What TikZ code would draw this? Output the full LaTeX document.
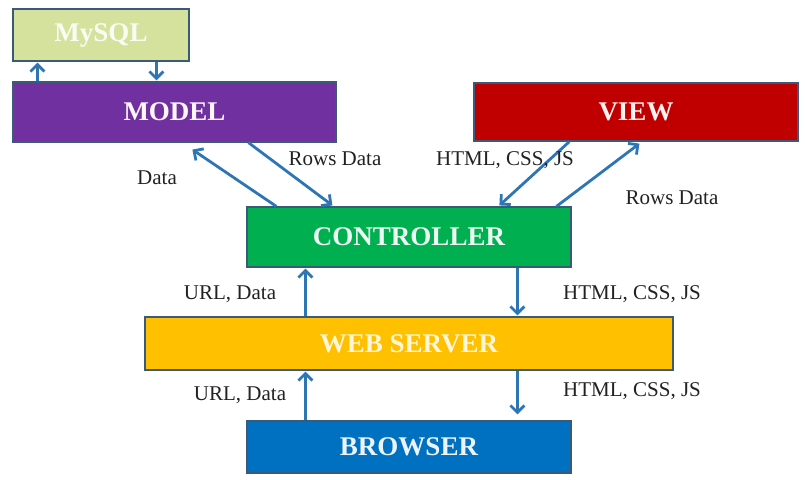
\documentclass[tikz,border=0pt]{standalone}
\usepackage{fontspec}
\setmainfont{Liberation Serif}
\usetikzlibrary{arrows.meta,calc}
\definecolor{bordc}{HTML}{3A5A78}
\definecolor{arrc}{HTML}{2E75B6}
\definecolor{mysqlc}{HTML}{D4E29E}
\definecolor{modelc}{HTML}{7030A0}
\definecolor{viewc}{HTML}{C00000}
\definecolor{ctrlc}{HTML}{00B050}
\definecolor{wsc}{HTML}{FFC000}
\definecolor{brc}{HTML}{0070C0}
\definecolor{labc}{HTML}{222222}
\tikzset{
  box/.style={draw=bordc, line width=1.2pt, anchor=center, inner sep=0pt,
    font=\fontsize{27}{30}\selectfont\bfseries},
  lab/.style={font=\fontsize{21}{24}\selectfont, text=labc, inner sep=0pt},
  conn/.style={draw=arrc, line width=2.8pt, -{Straight Barb[length=7pt,width=14pt,line width=2.8pt]}},
}
\begin{document}
\begin{tikzpicture}[x=1pt,y=-1pt]
\useasboundingbox[fill=white] (0,0) rectangle (805,479);
% boxes
\node[box, fill=mysqlc, text=white!88!mysqlc, minimum width=176pt, minimum height=52pt] (mysql) at (101,35) {MySQL};
\node[box, fill=modelc, text=white!85!pink, minimum width=323pt, minimum height=60pt] (model) at (174.5,112) {MODEL};
\node[box, fill=viewc, text=white!95!viewc, minimum width=324pt, minimum height=58pt] (view) at (636,112) {VIEW};
\node[box, fill=ctrlc, text=white!93!ctrlc, minimum width=324pt, minimum height=60pt] (ctrl) at (409,237) {CONTROLLER};
\node[box, fill=wsc, text=white!85!wsc, minimum width=528pt, minimum height=53pt] (ws) at (409,343.5) {WEB SERVER};
\node[box, fill=brc, text=white!92!brc, minimum width=324pt, minimum height=52pt] (br) at (409,447) {BROWSER};
% MySQL <-> Model
\draw[conn] ($(model.north west)+(25,0)$) -- ($(mysql.south west)+(25,1)$);
\draw[conn] ($(mysql.south west)+(144,0)$) -- ($(model.north west)+(144,-1)$);
% Model <-> Controller
\draw[conn] ($(ctrl.north west)+(30,0)$) -- ($(model.south west)+(180,7)$);
\draw[conn] ($(model.south west)+(236,0)$) -- ($(ctrl.north west)+(86,-1)$);
% View <-> Controller
\draw[conn] ($(view.south west)+(96,0)$) -- ($(ctrl.north west)+(253,-1)$);
\draw[conn] ($(ctrl.north west)+(310,0)$) -- ($(view.south west)+(166,2)$);
% Controller <-> Web server
\draw[conn] ($(ws.north west)+(161,0)$) -- ($(ctrl.south west)+(59,1)$);
\draw[conn] ($(ctrl.south west)+(271,0)$) -- ($(ws.north west)+(373,-1)$);
% Web server <-> Browser
\draw[conn] ($(br.north west)+(59,0)$) -- ($(ws.south west)+(161,1)$);
\draw[conn] ($(ws.south west)+(373,0)$) -- ($(br.north west)+(271,-6)$);
% labels
\node[lab] (l1) at (157,178) {Data};
\node[lab] (l2) at (335,159) {Rows Data};
\node[lab] (l3) at (505,160) {HTML, CSS, JS};
\node[lab] (l4) at (672,198) {Rows Data};
\node[lab] (l5) at (230,294) {URL, Data};
\node[lab] (l6) at (632,294) {HTML, CSS, JS};
\node[lab] (l7) at (240,395) {URL, Data};
\node[lab] (l8) at (632,391) {HTML, CSS, JS};
\end{tikzpicture}
\end{document}
